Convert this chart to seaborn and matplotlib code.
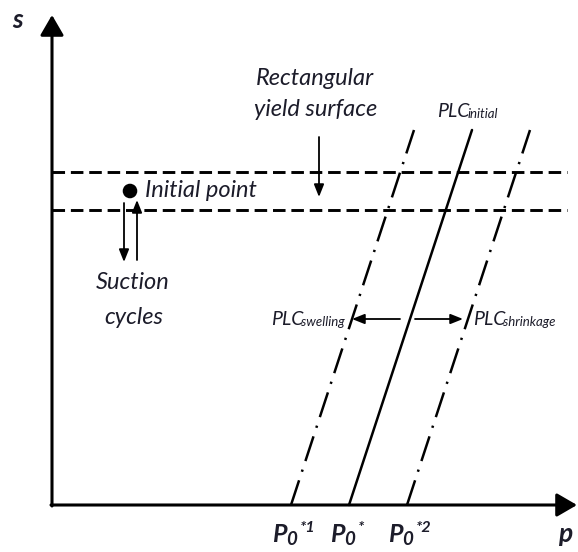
import matplotlib
matplotlib.use("Agg")
import matplotlib.pyplot as plt
import seaborn as sns
import pandas as pd

sns.set_theme(style="white")
plt.rcParams['font.family'] = ['Lato', 'DejaVu Sans']

# ---- schematic data (p, s units) ----
plc_names = ["swelling", "initial", "shrinkage"]
p0_values = [239, 297, 355]          # p-intercepts of the PLC lines
plc_slope = 0.328                    # dp/ds of the PLC lines
plc_top_s = 375                      # upper end of PLC lines
yield_s = [295, 333]                 # rectangular yield surface limits (s)
yield_p_end = 515
initial_point = (78, 314)
tick_sup = ["*1", "*", "*2"]

TXT = "#1c1c2a"

fig = plt.figure(figsize=(5.78, 5.52), dpi=100)
ax = fig.add_axes([0, 0, 1, 1])
ax.set_xlim(-52, 526)
ax.set_ylim(-47, 505)
ax.axis("off")

# PLC lines
rows = []
for name, p0 in zip(plc_names, p0_values):
    for s in (0, plc_top_s):
        rows.append({"curve": name, "p": p0 + plc_slope * s, "s": s})
df = pd.DataFrame(rows)
for name in plc_names:
    sub = df[df.curve == name]
    if name == "initial":
        sns.lineplot(data=sub, x="p", y="s", ax=ax, color="black", lw=1.8, sort=False)
    else:
        sns.lineplot(data=sub, x="p", y="s", ax=ax, color="black", lw=1.8, sort=False,
                     linestyle=(0, (10.4, 3.6, 0.9, 3.6)))

# yield surface dashed lines
for s in yield_s:
    d = pd.DataFrame({"p": [0, yield_p_end], "s": [s, s]})
    sns.lineplot(data=d, x="p", y="s", ax=ax, color="black", lw=2.1,
                 linestyle=(0, (4.3, 2.0)))

# initial point
sns.scatterplot(x=[initial_point[0]], y=[initial_point[1]], ax=ax, color="black",
                s=110, edgecolor="none")

# axes with arrows
big = dict(arrowstyle="-|>,head_length=0.62,head_width=0.36", color="black", lw=2.2,
           mutation_scale=20, shrinkA=0, shrinkB=0)
ax.annotate("", xy=(0, 490), xytext=(0, -1), arrowprops=big)
ax.annotate("", xy=(525, 0), xytext=(-1, 0), arrowprops=big)

small = dict(arrowstyle="-|>,head_length=0.75,head_width=0.3", color="black", lw=1.3,
             mutation_scale=10, shrinkA=0, shrinkB=0)
ax.annotate("", xy=(72, 243), xytext=(72, 302), arrowprops=small)
ax.annotate("", xy=(85, 305), xytext=(85, 245), arrowprops=small)
ax.annotate("", xy=(267, 308), xytext=(267, 368), arrowprops=small)
ax.annotate("", xy=(300, 186), xytext=(348, 186), arrowprops=small)
ax.annotate("", xy=(411, 186), xytext=(363, 186), arrowprops=small)


def rich(x, y, parts, ha="left"):
    """parts: list of (text, fontsize, dy_data, weight, dx_points)"""
    text, fs, dy, wt, _ = parts[0]
    first = ax.text(x, y + dy, text, fontsize=fs, style="italic", fontweight=wt,
                    color=TXT, ha=ha, va="baseline")
    prev = first
    for text, fs, dy, wt, dx in parts[1:]:
        prev = ax.annotate(text, xy=(1, y + dy), xycoords=(prev, "data"),
                           xytext=(dx, 0), textcoords="offset points",
                           fontsize=fs, style="italic", fontweight=wt, color=TXT,
                           ha="left", va="baseline")
    return first


fs = 17
it = dict(color=TXT, fontsize=fs, style="italic", va="baseline")
ax.text(93, 308, "Initial point", ha="left", **it)
ax.text(81, 216, "Suction", ha="center", **it)
ax.text(82, 181, "cycles", ha="center", **it)
ax.text(263, 420, "Rectangular", ha="center", **it)
ax.text(264, 389, "yield surface", ha="center", **it)

rich(385, 388, [("PLC", 14, 0, "normal", 0), ("initial", 9.5, -1, "normal", -1.5)])
rich(219, 180, [("PLC", 14, 0, "normal", 0), ("swelling", 9.5, -1, "normal", -1.5)])
rich(421, 180, [("PLC", 14, 0, "normal", 0), ("shrinkage", 9.5, -1, "normal", -1.5)])

for p0, sup in zip(p0_values, tick_sup):
    rich(p0 - 19, -37, [("P", 18, 0, "bold", 0), ("0", 13.5, -3, "bold", 0),
                        (sup, 11.5, 10, "bold", 1.5)])
ax.text(513, -37, "p", ha="center", va="baseline", color=TXT, fontsize=19,
        fontweight="bold", style="italic")
ax.text(-34, 477, "s", ha="center", va="baseline", color=TXT, fontsize=19,
        fontweight="bold", style="italic")

fig.savefig("out.png", dpi=100, facecolor="white")
